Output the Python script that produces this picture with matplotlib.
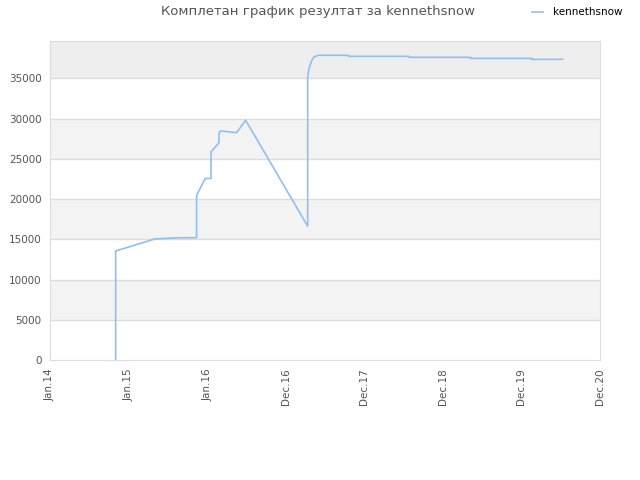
import numpy as np
import matplotlib
matplotlib.use('Agg')
import matplotlib.pyplot as plt
import pandas as pd

# values
dates = ['2014-11-02', '2014-11-02', '2015-05-04', '2015-08-12', '2015-11-13', '2015-11-13',
         '2015-12-23', '2016-01-19', '2016-01-19', '2016-02-25', '2016-02-25', '2016-03-05',
         '2016-05-17', '2016-06-28', '2017-04-12', '2017-04-12', '2017-04-18', '2017-05-01',
         '2017-05-11', '2017-05-31', '2017-10-18', '2017-10-18', '2018-07-28', '2018-07-28',
         '2019-05-09', '2019-05-09', '2020-02-17', '2020-02-17', '2020-07-09']
scores = [0, 13550, 15050, 15180, 15200, 20480,
          22550, 22550, 25850, 27000, 28200, 28460,
          28250, 29790, 16630, 35200, 36200, 37200,
          37650, 37860, 37860, 37730, 37730, 37610,
          37610, 37480, 37480, 37360, 37360]
tick_dates = ['2014-01-01', '2015-01-01', '2016-01-01', '2016-12-31', '2017-12-31',
              '2018-12-31', '2019-12-31', '2020-12-30']
tick_labels = ['Jan.14', 'Jan.15', 'Jan.16', 'Dec.16', 'Dec.17', 'Dec.18', 'Dec.19', 'Dec.20']
y_ticks = [0, 5000, 10000, 15000, 20000, 25000, 30000, 35000]
name = 'kennethsnow'
title = 'Комплетан график резултат за kennethsnow'

x = pd.to_datetime(dates)
tx = pd.to_datetime(tick_dates)
ymax = 39700

fig = plt.figure(figsize=(6.4, 4.8), dpi=100)
ax = fig.add_axes([50/640, 120/480, 550/640, 319.5/480])

# alternating bands
for i in range(len(y_ticks)):
    lo = y_ticks[i]
    hi = y_ticks[i+1] if i+1 < len(y_ticks) else ymax
    if i == len(y_ticks)-1:
        ax.axhspan(lo, hi, color='#eeeeee', zorder=0, lw=0)
    elif i % 2 == 1:
        ax.axhspan(lo, hi, color='#f3f3f3', zorder=0, lw=0)
for yv in y_ticks[1:]:
    ax.axhline(yv, color='#dddddd', lw=1, zorder=1)

ax.plot(x, scores, color='#90c0f0', lw=1.2, label=name, zorder=3)

ax.set_xlim(tx[0], tx[-1])
ax.set_ylim(0, ymax)
ax.set_xticks(tx)
ax.set_xticklabels(tick_labels, rotation=90, fontsize=7.5, color='#555555')
ax.set_yticks(y_ticks)
ax.set_yticklabels([str(v) for v in y_ticks], fontsize=7.5, color='#555555')
ax.tick_params(length=0, pad=6)
for s in ax.spines.values():
    s.set_color('#dddddd')

fig.text(318/640, 1-12/480, title, ha='center', va='center', fontsize=9.5, color='#555555')
fig.legend(loc='upper right', bbox_to_anchor=(1.0 - 10/640, 1.0), frameon=False, fontsize=7.5,
           handlelength=1.0, handletextpad=1.0, borderaxespad=0.3)

plt.savefig('out.png', dpi=100)
